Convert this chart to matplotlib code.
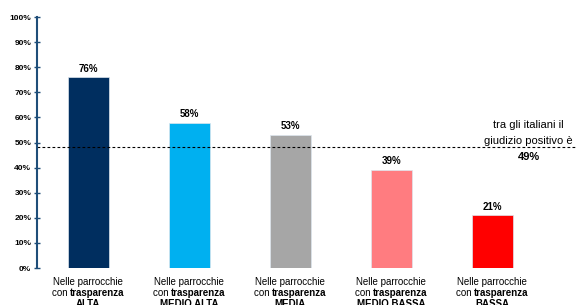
import matplotlib
matplotlib.use("Agg")
import matplotlib.pyplot as plt
from matplotlib.ticker import PercentFormatter

plt.rcParams['font.family'] = ['Liberation Sans', 'DejaVu Sans']

livelli = ['ALTA', 'MEDIO ALTA', 'MEDIA', 'MEDIO BASSA', 'BASSA']
valori = [76, 58, 53, 39, 21]
colori = ['#002E5F', '#00B0F0', '#A6A6A6', '#FF7C80', '#FF0000']
media_italia = 49

fig = plt.figure(figsize=(5.77, 3.05), dpi=100)
ax = fig.add_axes([0.064, 0.121, 0.936, 0.823])

x = list(range(len(valori)))
ax.bar(x, valori, width=0.41, color=colori, edgecolor='#DDE6EE', linewidth=0.5)

for xi, v in zip(x, valori):
    ax.text(xi, v + 1.5, '%d%%' % v, ha='center', va='bottom',
            fontsize=7, fontweight='bold')

ax.axhline(48.2, color='black', linestyle=(0, (2.5, 2)), linewidth=0.8)
ax.text(4.36, 57, 'tra gli italiani il', ha='center', va='center', fontsize=8)
ax.text(4.36, 50.6, 'giudizio positivo è', ha='center', va='center', fontsize=8)
ax.text(4.36, 44.2, '%d%%' % media_italia, ha='center', va='center',
        fontsize=8, fontweight='bold')

ax.set_xlim(-0.51, 4.84)
ax.set_ylim(0, 100)
ax.set_yticks(range(0, 101, 10))
ax.yaxis.set_major_formatter(PercentFormatter(decimals=0))
ax.tick_params(axis='y', direction='inout', length=4, width=1,
               color='#1F4E79', labelsize=6, pad=2)
for lbl in ax.get_yticklabels():
    lbl.set_fontweight('bold')
ax.set_xticks([])
for s in ['top', 'right', 'bottom']:
    ax.spines[s].set_visible(False)
ax.spines['left'].set_color('#1F4E79')
ax.spines['left'].set_linewidth(1.5)

# category labels, second line mixes regular and bold
fig.canvas.draw()
r = fig.canvas.get_renderer()
inv = ax.transData.inverted()
for xi, liv in zip(x, livelli):
    ax.text(xi, -3.6, 'Nelle parrocchie', ha='center', va='top', fontsize=7)
    t1 = ax.text(0, 0, 'con ', fontsize=7)
    t2 = ax.text(0, 0, 'trasparenza', fontsize=7, fontweight='bold')
    w1 = t1.get_window_extent(r).width
    w2 = t2.get_window_extent(r).width
    x0 = ax.transData.transform((xi, 0))[0] - (w1 + w2) / 2
    xa = inv.transform((x0, 0))[0]
    xb = inv.transform((x0 + w1, 0))[0]
    for t, xx, ha in ((t1, xa, 'left'), (t2, xb, 'left')):
        t.set_position((xx, -7.9))
        t.set_ha(ha)
        t.set_va('top')
    ax.text(xi, -12.2, liv, ha='center', va='top', fontsize=7, fontweight='bold')

fig.savefig('out.png', dpi=100)
